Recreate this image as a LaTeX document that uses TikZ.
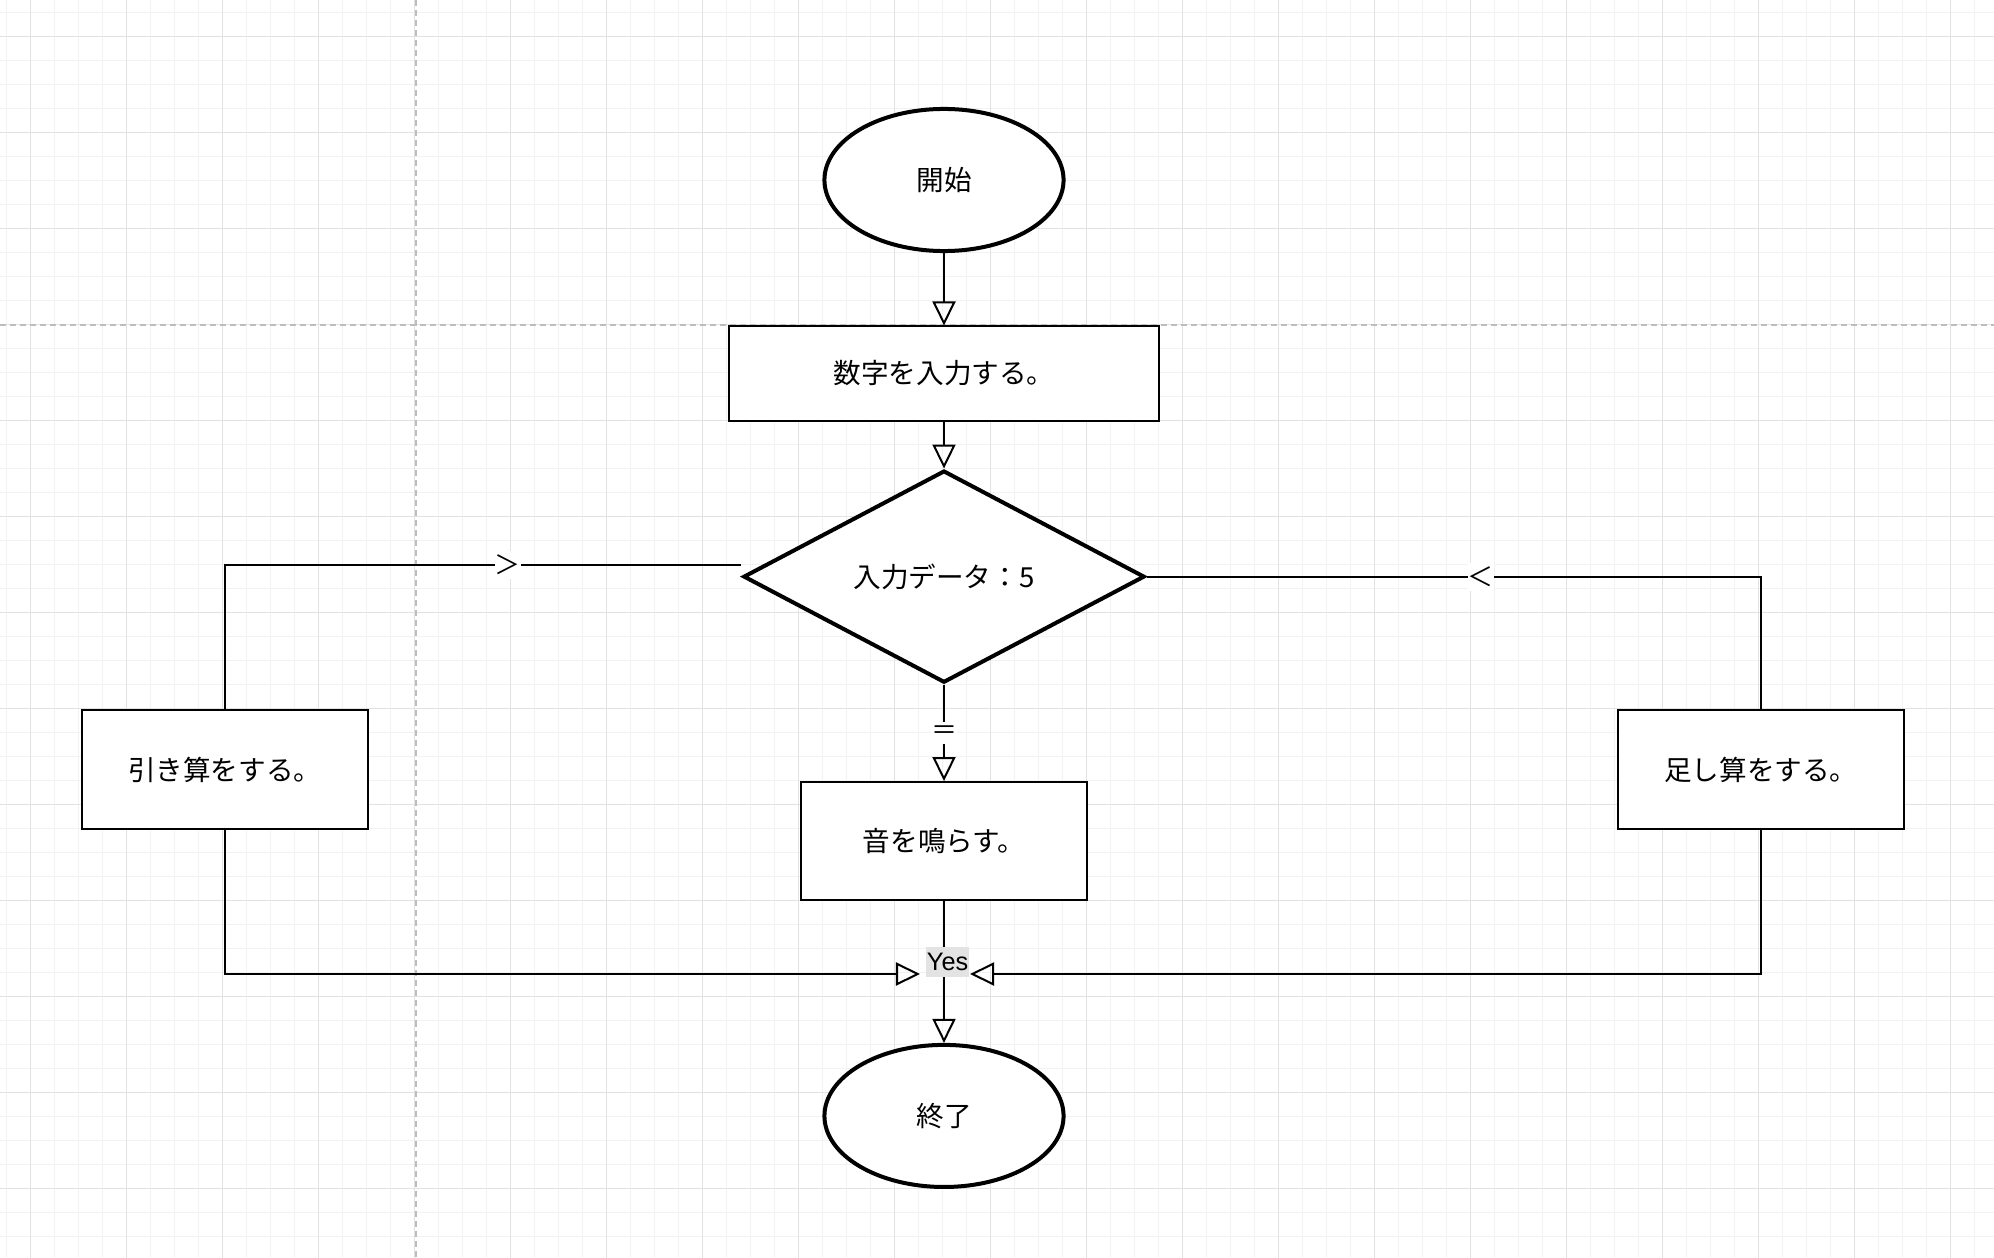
\documentclass[tikz,border=0pt]{standalone}
\usepackage{fontspec}
\setmainfont{Noto Sans CJK JP}
\newfontfamily\latinfont{Liberation Sans}
\usepackage{tikz}
\usetikzlibrary{shapes.geometric,arrows.meta,positioning}
\definecolor{gridminor}{HTML}{F2F2F2}
\definecolor{gridmajor}{HTML}{E2E2E2}
\definecolor{pageline}{HTML}{BDBDBD}
\definecolor{labelgray}{HTML}{E3E3E3}

\begin{document}
\begin{tikzpicture}[x = 0.01cm, y = -0.01cm,
  font = \fontsize{7.85pt}{9pt}\selectfont,
  term/.style = {draw, fill = white, shape = ellipse, line width = 0.04cm, minimum width = 2.39cm, minimum height = 1.42cm, inner sep = 0pt},
  proc/.style = {draw, fill = white, shape = rectangle, line width = 0.02cm, minimum width = 2.86cm, minimum height = 1.18cm},
  flow/.style = {line width = 0.02cm, -{Triangle[open, length = 0.24cm, width = 0.23cm]}},
  link/.style = {line width = 0.02cm},
  sym/.style = {fill = white, inner xsep = 0pt, inner ysep = 0.04cm, font = \fontsize{7.4pt}{9pt}\selectfont}]
\useasboundingbox (0,0) rectangle (1994,1258);
\foreach \i in {0,...,82} \draw[gridminor, line width = 0.01cm] (6.7+24*\i,0) -- (6.7+24*\i,1258);
\foreach \j in {0,...,51} \draw[gridminor, line width = 0.01cm] (0,12.7+24*\j) -- (1994,12.7+24*\j);
\foreach \i in {0,...,20} \draw[gridmajor, line width = 0.012cm] (30.7+96*\i,0) -- (30.7+96*\i,1258);
\foreach \j in {0,...,12} \draw[gridmajor, line width = 0.012cm] (0,36.7+96*\j) -- (1994,36.7+96*\j);
\draw[pageline, line width = 0.015cm, dash pattern = on 0.06cm off 0.04cm] (416,0) -- (416,1258) (0,325) -- (1994,325);

\node[term] (1) at (944,180) {開始};
\node[proc, minimum width = 4.30cm, minimum height = 0.94cm, below = 0.724cm of 1] (2) {数字を入力する。};
\node[draw, fill = white, shape = diamond, aspect = 2, line width = 0.04cm, minimum width = 4.01cm, minimum height = 2.12cm, inner sep = 0pt, below = 0.47cm of 2] (3) {入力データ：5};
\node[proc, below = 0.963cm of 3] (4) {音を鳴らす。};
\node[term, below = 1.417cm of 4] (5) {終了};
\node[proc] (6) at (224.7,769.5) {引き算をする。};
\node[proc] (7) at (1760.8,769.5) {足し算をする。};
\coordinate (8) at (920,974);
\coordinate (9) at (970,974);
\coordinate (10) at (741,565);

\draw[flow] (1.south) -- (2.north);
\draw[flow] (2.south) -- (3.north);
\draw[flow] (3.south) -- node[sym] {＝} (4.north);
\draw[flow] (4.south) -- node[pos = 0.428, xshift = 0.036cm, fill = labelgray, inner xsep = 0.01cm, inner ysep = 0pt, text height = 0.235cm, text depth = 0.066cm, font = \latinfont\fontsize{7.2pt}{8pt}\selectfont] {Yes} (5.north);
\draw[flow] (6.south) |- (8);
\draw[flow] (7.south) |- (9);
\draw[link] (6.north) |- node[sym, pos = 0.774] {＞} (10);
\draw[link] (3.east) -| node[sym, pos = 0.272] {＜} (7.north);
\end{tikzpicture}
\end{document}
